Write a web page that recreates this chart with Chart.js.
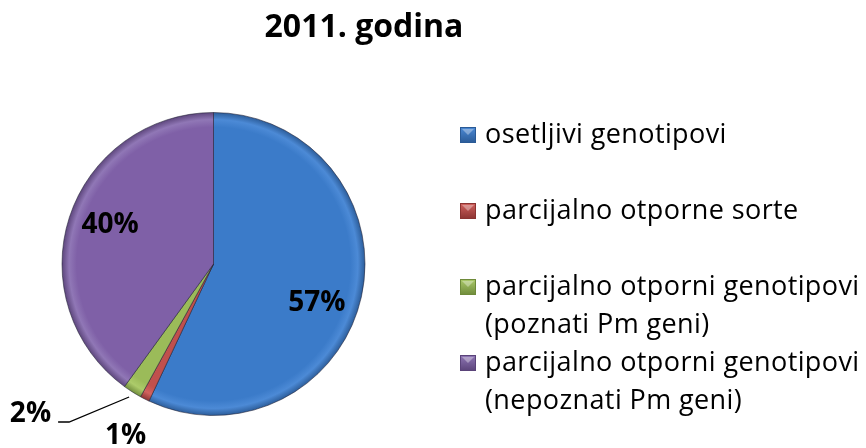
<!DOCTYPE html>
<html>
<head>
<meta charset="utf-8">
<script src="https://cdn.jsdelivr.net/npm/chart.js@4.4.1/dist/chart.umd.min.js"></script>
<style>
  html, body { margin: 0; padding: 0; background: #fff; }
</style>
</head>
<body>
<canvas id="pie" width="866" height="448"></canvas>
<script>
const chartTitle = "2011. godina";
const categories = [
  ["osetljivi genotipovi"],
  ["parcijalno otporne sorte"],
  ["parcijalno otporni genotipovi", "(poznati Pm geni)"],
  ["parcijalno otporni genotipovi", "(nepoznati Pm geni)"]
];
const shares = [57, 1, 2, 40];

const baseColors = ["#3b7bc9", "#c0504d", "#9bbb59", "#7f60a7"];
const darkColors = ["#2a5a96", "#8a3331", "#6e8a3a", "#5a4379"];
const lightColors = ["#4c8ad6", "#d2625e", "#accb6a", "#9077b6"];

const FONT = "'Open Sans', 'DejaVu Sans', sans-serif";

function sliceFill(c) {
  const i = c.dataIndex;
  const area = c.chart.chartArea;
  if (!area) return baseColors[i];
  const cx = (area.left + area.right) / 2;
  const cy = (area.top + area.bottom) / 2;
  const r = Math.min(area.right - area.left, area.bottom - area.top) / 2;
  const g = c.chart.ctx.createRadialGradient(cx, cy, 0, cx, cy, r);
  g.addColorStop(0, baseColors[i]);
  g.addColorStop(0.9, baseColors[i]);
  g.addColorStop(0.95, lightColors[i]);
  g.addColorStop(1, darkColors[i]);
  return g;
}

// percentages on and beside the slices
const sliceLabels = {
  id: "sliceLabels",
  afterDatasetsDraw(chart) {
    const ctx = chart.ctx;
    const arcs = chart.getDatasetMeta(0).data;
    ctx.save();
    ctx.font = "bold 28px " + FONT;
    ctx.fillStyle = "#000";
    ctx.strokeStyle = "#000";
    ctx.lineWidth = 1.3;
    ctx.textBaseline = "middle";
    arcs.forEach((arc, i) => {
      const p = arc.getProps(["x", "y", "startAngle", "endAngle", "outerRadius"], true);
      const mid = (p.startAngle + p.endAngle) / 2;
      const text = shares[i] + "%";
      if (shares[i] >= 10) {
        // big slices: label inside, pushed a little clockwise
        const a = mid + (i === 0 ? 0.145 : 0.05);
        const r = p.outerRadius * 0.73;
        ctx.textAlign = "center";
        ctx.fillText(text, p.x + Math.cos(a) * r, p.y + Math.sin(a) * r);
      } else if (i === 1) {
        const r = p.outerRadius + 42;
        ctx.textAlign = "center";
        ctx.fillText(text, p.x + Math.cos(mid) * r, p.y + Math.sin(mid) * r);
      } else {
        const r = p.outerRadius + 6;
        const ax = p.x + Math.cos(mid) * r;
        const ay = p.y + Math.sin(mid) * r;
        const ex = ax - 60, ey = ay + 25;
        ctx.beginPath();
        ctx.moveTo(ax, ay);
        ctx.lineTo(ex, ey);
        ctx.lineTo(ex - 11, ey);
        ctx.stroke();
        ctx.textAlign = "right";
        ctx.fillText(text, ex - 18, ey - 8);
      }
    });
    ctx.restore();
  }
};

// title and the legend on the right
const sideLegend = {
  id: "sideLegend",
  afterDraw(chart) {
    const ctx = chart.ctx;
    ctx.save();
    ctx.fillStyle = "#000";
    ctx.textAlign = "center";
    ctx.textBaseline = "alphabetic";
    ctx.font = "bold 32px " + FONT;
    ctx.fillText(chartTitle, 364, 37);

    ctx.font = "27px " + FONT;
    ctx.letterSpacing = "0.4px";
    ctx.textAlign = "left";
    ctx.textBaseline = "middle";
    const lineH = 38;
    let y = 135;
    categories.forEach((lines, i) => {
      const s = 16, bx = 460, by = y - 8;
      const g = ctx.createLinearGradient(0, by, 0, by + s);
      g.addColorStop(0, lightColors[i]);
      g.addColorStop(1, darkColors[i]);
      ctx.fillStyle = g;
      ctx.fillRect(bx, by, s, s);
      ctx.fillStyle = "rgba(255,255,255,0.35)";
      ctx.beginPath();
      ctx.moveTo(bx + 2, by + 2);
      ctx.lineTo(bx + s - 2, by + 2);
      ctx.lineTo(bx + s / 2, by + s / 2);
      ctx.closePath();
      ctx.fill();
      ctx.strokeStyle = darkColors[i];
      ctx.lineWidth = 1;
      ctx.strokeRect(bx + 0.5, by + 0.5, s - 1, s - 1);
      ctx.fillStyle = "#000";
      lines.forEach((t, k) => ctx.fillText(t, 485, y + k * lineH));
      y += Math.max(lines.length * lineH, 76);
    });
    ctx.restore();
  }
};

new Chart(document.getElementById("pie"), {
  type: "pie",
  data: {
    labels: categories.map(l => l.join(" ")),
    datasets: [{
      data: shares,
      backgroundColor: sliceFill,
      borderColor: "rgba(30,30,50,0.55)",
      borderWidth: 1
    }]
  },
  options: {
    responsive: false,
    animation: false,
    devicePixelRatio: 1,
    layout: { padding: { left: 61, top: 112, right: 500, bottom: 32 } },
    plugins: {
      legend: { display: false },
      title: { display: false },
      tooltip: { enabled: false }
    }
  },
  plugins: [sliceLabels, sideLegend]
});
</script>
</body>
</html>
